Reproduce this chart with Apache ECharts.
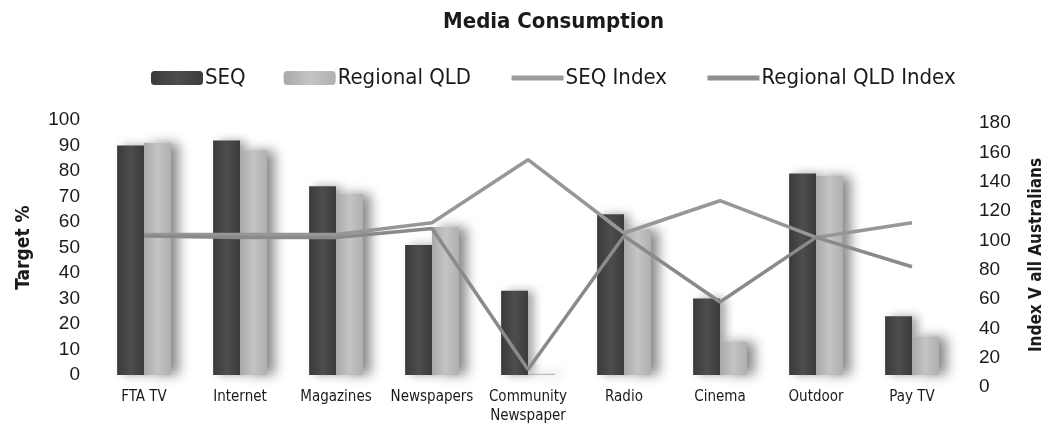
<!DOCTYPE html>
<html>
<head>
<meta charset="utf-8">
<script src="https://cdn.jsdelivr.net/npm/echarts@6/dist/echarts.min.js"></script>
<style>
  html, body { margin: 0; padding: 0; background: #ffffff; }
  #chart { width: 1046px; height: 427px; }
</style>
</head>
<body>
<div id="chart"></div>
<script>
// Media categories and audience reach (%) by region
const categories = ['FTA TV', 'Internet', 'Magazines', 'Newspapers', 'Community\nNewspaper', 'Radio', 'Cinema', 'Outdoor', 'Pay TV'];
const seqTarget = [90, 92, 74, 51, 33, 63, 30, 79, 23];
const regionalTarget = [91, 88, 71, 58, 0.5, 57, 13, 78, 15];

// Index versus all Australians
const seqIndex = [104, 104, 104, 112, 155, 105, 127, 102, 112];
const regionalIndex = [103, 102, 102, 108, 12, 103, 58, 102, 82];

const leftTicks = [0, 10, 20, 30, 40, 50, 60, 70, 80, 90, 100];
const rightTicks = [0, 20, 40, 60, 80, 100, 120, 140, 160, 180];

const narrow = '"DejaVu Sans Condensed", "Liberation Sans Narrow", "Liberation Sans", Arial, sans-serif';

const darkBar = {
  type: 'linear', x: 0, y: 0, x2: 1, y2: 0,
  colorStops: [
    { offset: 0, color: '#3a3a3a' },
    { offset: 0.5, color: '#4d4d4d' },
    { offset: 1, color: '#3c3c3c' }
  ]
};
const lightBar = {
  type: 'linear', x: 0, y: 0, x2: 1, y2: 0,
  colorStops: [
    { offset: 0, color: '#a9a9a9' },
    { offset: 0.5, color: '#c4c4c4' },
    { offset: 1, color: '#b0b0b0' }
  ]
};

const chart = echarts.init(document.getElementById('chart'), null, { renderer: 'canvas' });

chart.setOption({
  backgroundColor: '#ffffff',
  animation: false,
  title: {
    text: 'Media Consumption',
    left: 438,
    top: 6,
    textStyle: { fontFamily: narrow, fontSize: 22, fontWeight: 'bold', color: '#1a1a1a' }
  },
  legend: {
    top: 62,
    left: 146,
    itemWidth: 52,
    itemHeight: 14,
    itemGap: 38,
    textStyle: { fontFamily: narrow, fontSize: 22, color: '#1a1a1a', padding: [0, 0, 0, -3] },
    data: [
      'SEQ',
      'Regional QLD',
      { name: 'SEQ Index', itemStyle: { opacity: 0 }, lineStyle: { width: 5, color: '#9c9c9c' } },
      { name: 'Regional QLD Index', itemStyle: { opacity: 0 }, lineStyle: { width: 5, color: '#8e8e8e' } }
    ]
  },
  grid: [
    { left: 96, right: 86, top: 120, height: 255, outerBoundsMode: 'none' },
    { left: 96, right: 86, top: 123, height: 264, outerBoundsMode: 'none' }
  ],
  xAxis: [
    {
      type: 'category',
      gridIndex: 0,
      data: categories,
      axisLine: { show: false },
      axisTick: { show: false },
      axisLabel: {
        fontFamily: narrow, fontSize: 15, color: '#1a1a1a',
        margin: 13, lineHeight: 19, interval: 0
      }
    },
    {
      type: 'category',
      gridIndex: 1,
      data: categories,
      show: false
    }
  ],
  yAxis: [
    {
      type: 'value',
      gridIndex: 0,
      min: 0, max: 100, interval: 10,
      name: 'Target %',
      nameLocation: 'middle',
      nameRotate: 90,
      nameGap: 62,
      nameTextStyle: { fontFamily: narrow, fontSize: 19, fontWeight: 'bold', color: '#1a1a1a' },
      axisLine: { show: false },
      axisTick: { show: false },
      splitLine: { show: false },
      axisLabel: {
        fontFamily: '"Liberation Sans", Arial, sans-serif', fontSize: 19, color: '#1a1a1a', margin: 16,
        formatter: v => leftTicks.includes(v) ? String(v) : ''
      }
    },
    {
      type: 'value',
      gridIndex: 1,
      position: 'right',
      min: 0, max: 180, interval: 20,
      name: 'Index V all Australians',
      nameLocation: 'middle',
      nameRotate: 90,
      nameGap: 68,
      nameTextStyle: { fontFamily: narrow, fontSize: 17, fontWeight: 'bold', color: '#1a1a1a' },
      axisLine: { show: false },
      axisTick: { show: false },
      splitLine: { show: false },
      axisLabel: {
        fontFamily: '"Liberation Sans", Arial, sans-serif', fontSize: 19, color: '#1a1a1a', margin: 19,
        formatter: v => rightTicks.includes(v) ? String(v) : ''
      }
    }
  ],
  series: [
    {
      name: 'SEQ',
      type: 'bar',
      xAxisIndex: 0, yAxisIndex: 0,
      data: seqTarget,
      barGap: '0%',
      barCategoryGap: '44%',
      itemStyle: {
        color: darkBar,
        shadowColor: 'rgba(0,0,0,0.35)', shadowBlur: 10, shadowOffsetX: 6
      }
    },
    {
      name: 'Regional QLD',
      type: 'bar',
      xAxisIndex: 0, yAxisIndex: 0,
      data: regionalTarget,
      itemStyle: {
        color: lightBar,
        shadowColor: 'rgba(0,0,0,0.45)', shadowBlur: 12, shadowOffsetX: 8
      }
    },
    {
      name: 'SEQ Index',
      type: 'line',
      xAxisIndex: 1, yAxisIndex: 1,
      data: seqIndex,
      symbol: 'none',
      lineStyle: { color: '#979797', width: 3.5 },
      itemStyle: { color: '#979797' },
      z: 5
    },
    {
      name: 'Regional QLD Index',
      type: 'line',
      xAxisIndex: 1, yAxisIndex: 1,
      data: regionalIndex,
      symbol: 'none',
      lineStyle: { color: '#8a8a8a', width: 3.5 },
      itemStyle: { color: '#8a8a8a' },
      z: 5
    }
  ]
});
</script>
</body>
</html>
